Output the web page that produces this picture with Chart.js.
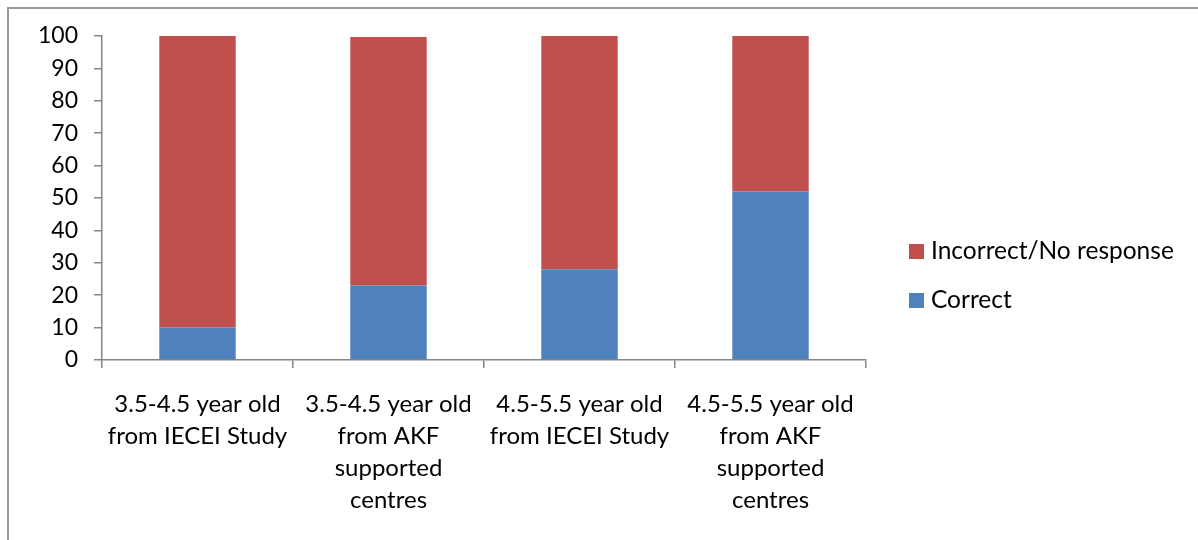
<!DOCTYPE html>
<html>
<head>
<meta charset="utf-8">
<script src="https://cdn.jsdelivr.net/npm/chart.js@4"></script>
<style>
  html, body { margin: 0; padding: 0; background: #fff; }
  #wrap { position: relative; width: 1198px; height: 540px; overflow: hidden; }
  #frame { position: absolute; left: 7px; top: 7px; right: -4px; bottom: -4px;
           border-top: 2px solid #9a9a9a; border-left: 2px solid #9a9a9a; }
  #c { position: absolute; left: 0; top: 0; }
</style>
</head>
<body>
<div id="wrap">
  <div id="frame"></div>
  <canvas id="c" width="1198" height="540"></canvas>
</div>
<script>
// Age groups / sources
const categories = [
  ['3.5-4.5 year old', 'from IECEI Study'],
  ['3.5-4.5 year old', 'from AKF', 'supported', 'centres'],
  ['4.5-5.5 year old', 'from IECEI Study'],
  ['4.5-5.5 year old', 'from AKF', 'supported', 'centres']
];
// Share of children (%)
const correct = [10, 23, 28, 52];
const incorrectNoResponse = [90, 76.7, 72, 48];
const seriesNames = ['Correct', 'Incorrect/No response'];
const yTicks = [0, 10, 20, 30, 40, 50, 60, 70, 80, 90, 100];

const FONT = 'Lato';
const AXIS_GREY = '#868686';

// Legend on the right: top entry is the last (upper) stack segment
const sideLegend = {
  id: 'sideLegend',
  afterDraw(chart) {
    const ctx = chart.ctx;
    const x = 909, box = 15, firstY = 251.5, step = 48.5;
    const sets = chart.data.datasets.slice().reverse();
    ctx.save();
    ctx.font = '24.5px ' + FONT;
    ctx.textBaseline = 'middle';
    ctx.textAlign = 'left';
    sets.forEach((ds, i) => {
      const cy = firstY + i * step;
      ctx.fillStyle = ds.backgroundColor;
      ctx.fillRect(x, Math.round(cy - box / 2), box, box);
      ctx.fillStyle = '#000';
      ctx.fillText(ds.label, x + box + 7, cy);
    });
    ctx.restore();
  }
};

new Chart(document.getElementById('c'), {
  type: 'bar',
  data: {
    labels: categories,
    datasets: [
      { label: seriesNames[0], data: correct, backgroundColor: '#4F81BD', borderWidth: 0 },
      { label: seriesNames[1], data: incorrectNoResponse, backgroundColor: '#C0504D', borderWidth: 0 }
    ]
  },
  plugins: [sideLegend],
  options: {
    responsive: false,
    animation: false,
    events: [],
    categoryPercentage: 1.0,
    barPercentage: 0.4,
    layout: { padding: { top: 36, left: 0, right: 1198 - 866, bottom: 25 } },
    plugins: {
      tooltip: { enabled: false },
      title: { display: false },
      legend: { display: false }
    },
    scales: {
      x: {
        stacked: true,
        offset: true,
        grid: { display: true, offset: true, drawOnChartArea: false, drawTicks: true,
                tickLength: 8, color: AXIS_GREY, lineWidth: 1.5 },
        border: { display: true, color: AXIS_GREY, width: 1.5 },
        ticks: { color: '#000', padding: 20, maxRotation: 0, autoSkip: false,
                 font: { family: FONT, size: 24, lineHeight: 32 / 24 } },
        afterFit(scale) { scale.height = 155; }
      },
      y: {
        stacked: true,
        min: 0,
        max: 100,
        afterBuildTicks(scale) { scale.ticks = yTicks.map(v => ({ value: v })); },
        grid: { display: true, drawOnChartArea: false, drawTicks: true,
                tickLength: 8, color: AXIS_GREY, lineWidth: 1.5 },
        border: { display: true, color: AXIS_GREY, width: 1.5 },
        ticks: { color: '#000', padding: 16,
                 font: { family: FONT, size: 23 } },
        afterFit(scale) { scale.width = 102; }
      }
    }
  }
});
</script>
</body>
</html>
